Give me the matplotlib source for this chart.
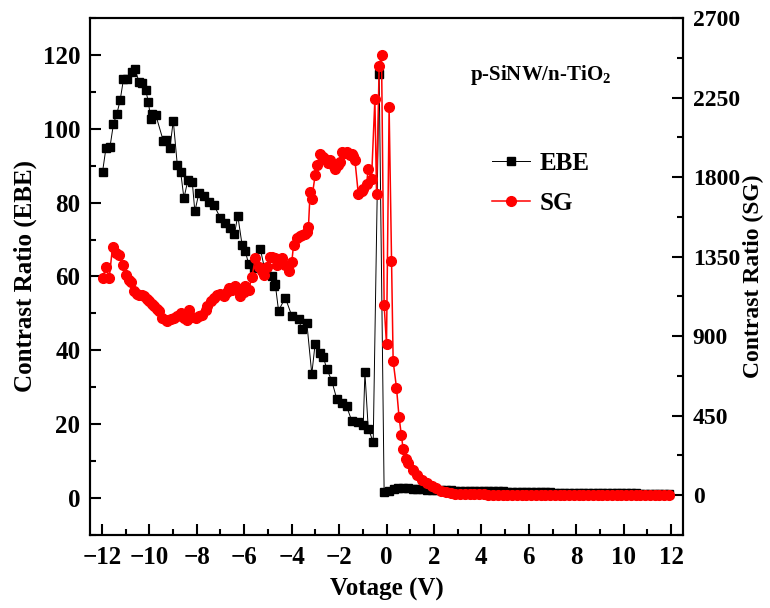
import numpy as np
import matplotlib
matplotlib.use('Agg')
import matplotlib.pyplot as plt
from matplotlib.ticker import MultipleLocator

plt.rcParams['font.family'] = 'Liberation Serif'
plt.rcParams['font.weight'] = 'bold'
plt.rcParams['mathtext.fontset'] = 'custom'
plt.rcParams['mathtext.bf'] = 'Liberation Serif:bold'
plt.rcParams['mathtext.rm'] = 'Liberation Serif:bold'

# EBE curve, reverse bias side
ebe_v = [-11.97, -11.83, -11.66, -11.51, -11.37, -11.23, -11.09, -10.92, -10.75, -10.61,
         -10.43, -10.29, -10.15, -10.04, -9.94, -9.87, -9.73, -9.41, -9.31, -9.13,
         -8.99, -8.82, -8.68, -8.54, -8.37, -8.19, -8.08, -7.91, -7.70, -7.49,
         -7.28, -7.00, -6.79, -6.58, -6.41, -6.27, -6.09, -5.95, -5.81, -5.60,
         -5.32, -5.10, -4.83, -4.76, -4.69, -4.55, -4.27, -3.99, -3.71, -3.57,
         -3.36, -3.15, -3.01, -2.80, -2.66, -2.52, -2.31, -2.10, -1.89, -1.68,
         -1.47, -1.19, -0.98, -0.91, -0.77, -0.56, -0.31]
ebe_cr = [88.4, 94.7, 95.0, 101.4, 104.0, 107.7, 113.4, 113.6, 115.4, 116.1,
          112.7, 112.5, 110.4, 107.3, 102.6, 104.1, 103.8, 96.7, 96.9, 94.9,
          102.2, 90.2, 88.4, 81.2, 86.2, 85.7, 77.6, 82.6, 81.7, 80.3,
          79.4, 75.8, 74.5, 73.1, 71.5, 76.5, 68.6, 66.8, 63.3, 62.3,
          67.4, 61.0, 60.1, 57.4, 57.9, 50.7, 54.3, 49.3, 48.4, 45.7,
          47.5, 33.6, 41.7, 39.4, 38.1, 35.0, 31.8, 26.9, 25.7, 24.8,
          21.0, 20.6, 19.7, 34.0, 18.8, 15.2, 114.9]
# EBE curve, forward side (0.2 V steps from -0.1 V)
ebe_v_fwd = np.arange(-0.1, 12.0, 0.2)
ebe_cr_fwd = [1.6, 1.8, 2.4, 2.8, 2.7, 2.6, 2.5, 2.4, 2.4, 2.3,
              2.3, 2.2, 2.2, 2.1, 2.1, 2.0, 2.0, 2.0, 1.9, 1.9,
              1.9, 1.9, 1.8, 1.8, 1.8, 1.8, 1.7, 1.7, 1.7, 1.7,
              1.7, 1.6, 1.6, 1.6, 1.6, 1.6, 1.5, 1.5, 1.5, 1.5,
              1.5, 1.5, 1.4, 1.4, 1.4, 1.4, 1.4, 1.4, 1.3, 1.3,
              1.3, 1.3, 1.3, 1.3, 1.2, 1.2, 1.2, 1.2, 1.2, 1.2,
              1.2]

# SG curve
sg_v = [-11.97, -11.83, -11.69, -11.55, -11.41, -11.27, -11.13, -10.99, -10.85, -10.78,
        -10.64, -10.50, -10.43, -10.29, -10.22, -10.08, -10.01, -9.87, -9.80, -9.66,
        -9.59, -9.45, -9.31, -9.24, -9.10, -8.96, -8.82, -8.68, -8.54, -8.40,
        -8.33, -8.19, -8.05, -7.91, -7.77, -7.63, -7.56, -7.42, -7.28, -7.14,
        -7.00, -6.86, -6.72, -6.65, -6.51, -6.37, -6.23, -6.16, -6.02, -5.95,
        -5.81, -5.67, -5.53, -5.39, -5.25, -5.18, -5.04, -4.90, -4.83, -4.69,
        -4.62, -4.41, -4.27, -4.13, -3.99, -3.92, -3.78, -3.64, -3.57, -3.43,
        -3.36, -3.29, -3.22, -3.15, -3.01, -2.94, -2.80, -2.66, -2.59, -2.45,
        -2.38, -2.24, -2.17, -2.03, -1.96, -1.89, -1.75, -1.68, -1.54, -1.47,
        -1.40, -1.33, -1.19, -1.05, -0.98, -0.84, -0.77, -0.63, -0.49, -0.42,
        -0.31, -0.21, -0.10, 0.00, 0.11, 0.21, 0.28, 0.42, 0.53, 0.63,
        0.70, 0.81]
sg_cr = [1228, 1294, 1228, 1406, 1370, 1360, 1303, 1247, 1220, 1209,
         1153, 1140, 1134, 1130, 1125, 1110, 1097, 1080, 1069, 1055,
         1041, 1003, 990, 984, 995, 1003, 1015, 1031, 1000, 994,
         1050, 1010, 1003, 1015, 1022, 1050, 1069, 1097, 1115, 1134,
         1140, 1125, 1150, 1172, 1160, 1181, 1165, 1125, 1150, 1181,
         1163, 1237, 1340, 1290, 1270, 1247, 1290, 1350, 1350, 1340,
         1303, 1340, 1303, 1266, 1322, 1416, 1453, 1465, 1472, 1480,
         1491, 1519, 1716, 1678, 1809, 1869, 1931, 1915, 1903, 1880,
         1894, 1870, 1847, 1870, 1884, 1941, 1935, 1941, 1925, 1931,
         1920, 1894, 1706, 1720, 1734, 1762, 1847, 1791, 2240, 1706,
         2428, 2490, 1078, 853, 2194, 1326, 759, 609, 441, 338,
         263, 206]
sg_v_fwd = np.arange(0.9, 12.0, 0.2)
sg_cr_fwd = [185, 145, 115, 88, 68, 52, 38, 26, 16, 10,
             7, 6, 5, 5, 5, 5, 5, 4, 4, 4,
             4, 4, 4, 4, 4, 4, 4, 4, 4, 4,
             3, 3, 3, 3, 3, 3, 3, 3, 3, 3,
             3, 3, 3, 3, 3, 2, 2, 2, 2, 2,
             2, 2, 2, 2, 2, 2]

x_ebe = np.concatenate([ebe_v, ebe_v_fwd])
y_ebe = np.concatenate([ebe_cr, ebe_cr_fwd])
x_sg = np.concatenate([sg_v, sg_v_fwd])
y_sg = np.concatenate([sg_cr, sg_cr_fwd])

fig = plt.figure(figsize=(7.7, 6.08), dpi=100)
ax = fig.add_axes([0.1169, 0.1201, 0.7701, 0.8503])
ax2 = ax.twinx()

l1, = ax.plot(x_ebe, y_ebe, color='k', lw=0.7, marker='s', ms=6,
              mec='k', mfc='k', label='EBE')
l2, = ax2.plot(x_sg, y_sg, color='red', lw=1.1, marker='o', ms=7,
               mec='red', mfc='red', label='SG')

ax.set_xlim(-12.5, 12.5)
ax.set_ylim(-10, 130)
ax2.set_ylim(-225, 2700)

ax.xaxis.set_major_locator(MultipleLocator(2))
ax.xaxis.set_minor_locator(MultipleLocator(1))
ax.yaxis.set_major_locator(MultipleLocator(20))
ax.yaxis.set_minor_locator(MultipleLocator(10))
ax2.yaxis.set_major_locator(MultipleLocator(450))
ax2.yaxis.set_minor_locator(MultipleLocator(225))

for a in (ax, ax2):
    a.tick_params(which='major', direction='in', length=8, width=1.5, labelsize=18)
    a.tick_params(which='minor', direction='in', length=4, width=1.5)
    for s in a.spines.values():
        s.set_linewidth(1.5)
ax.tick_params(axis='x', pad=8)
ax.tick_params(axis='y', pad=7)
ax2.tick_params(axis='y', pad=7, labelsize=17)

ax.set_xlabel('Votage (V)', fontsize=18, fontweight='bold', labelpad=6)
ax.set_ylabel('Contrast Ratio (EBE)', fontsize=18, fontweight='bold', labelpad=4)
ax2.set_ylabel('Contrast Ratio (SG)', fontsize=17, fontweight='bold', labelpad=2)

ax2.text(0.641, 0.89, r'p-SiNW/n-TiO$_\mathbf{2}$', transform=ax.transAxes,
         fontsize=15, fontweight='bold', va='center', ha='left')

ax2.legend([l1, l2], ['EBE', 'SG'], loc='upper left', bbox_to_anchor=(0.64, 0.785),
           frameon=False, fontsize=18, handlelength=1.5, handletextpad=0.4,
           labelspacing=0.7, markerscale=1.0)

fig.savefig('out.png', dpi=100)
